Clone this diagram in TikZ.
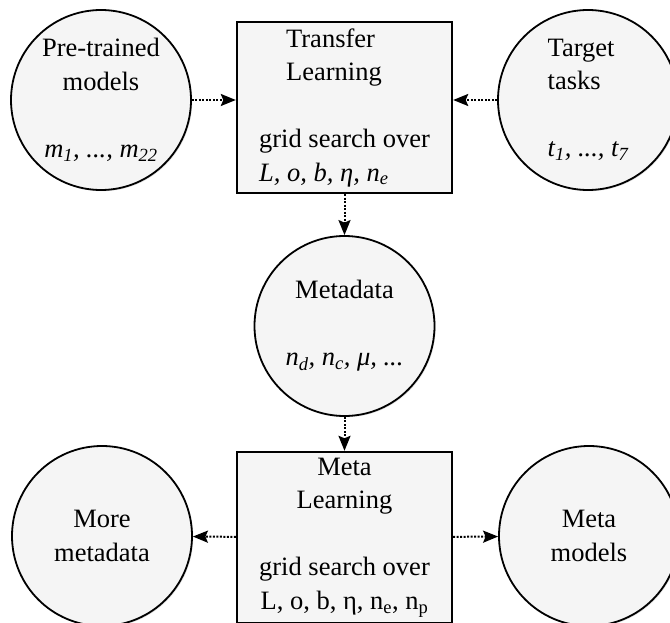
\documentclass[tikz,border=0pt]{standalone}
\usepackage{fontspec}
\setmainfont{Liberation Serif}
\usetikzlibrary{arrows.meta,shadows}

\begin{document}
\begin{tikzpicture}[x=1pt,y=-1pt,
    blob/.style={circle,draw,line width=1.8pt,fill=black!4,minimum size=180pt,inner sep=0pt,
      drop shadow={shadow xshift=1.2pt,shadow yshift=-1.2pt,opacity=0.25},
      font=\fontsize{26.5}{33.5}\selectfont},
    stage/.style={rectangle,draw,line width=2.4pt,fill=black!4,minimum width=215pt,minimum height=171pt,inner sep=0pt,
      font=\fontsize{26.5}{33.5}\selectfont},
    flow/.style={-{Stealth[length=15pt,width=12pt,inset=2.5pt]},line width=2pt,dash pattern=on 2pt off 1.5pt}]
  \useasboundingbox (0,0) rectangle (670,623);

  % transfer learning stage
  \node[blob,align=center] (pre) at (101,100) {Pre-trained\\models\\[33.5pt] {\itshape m\textsubscript{1}, ..., m\textsubscript{22}}};
  \node[stage,align=left] (tl) at (344.5,107.5) {\hspace*{27pt}Transfer\\\hspace*{27pt}Learning\\[33.5pt]grid search over\\{\itshape L, o, b, η, n\textsubscript{e}}};
  \node[blob,align=left] (tasks) at (588,100) {Target\\tasks\\[33.5pt]{\itshape t\textsubscript{1}, ..., t\textsubscript{7}}};
  \node[blob,align=center] (meta) at (344.5,326) {Metadata\\[33.5pt]{\itshape n\textsubscript{d}, n\textsubscript{c}, μ, ...}};

  % meta learning stage
  \node[stage,align=center] (ml) at (344.5,537.5) {Meta\\Learning\\[33.5pt]grid search over\\L, o, b, η, n\textsubscript{e}, n\textsubscript{p}};
  \node[blob,align=center] (more) at (102,536) {More\\metadata};
  \node[blob,align=center] (mm) at (589,536) {Meta\\models};

  \draw[flow] (pre.east) -- (pre.east -| tl.west);
  \draw[flow] (tasks.west) -- (tasks.west -| tl.east);
  \draw[flow] (tl) -- (meta);
  \draw[flow] (meta) -- (ml);
  \draw[flow] (ml) -- (more);
  \draw[flow] (ml) -- (mm);
\end{tikzpicture}
\end{document}
